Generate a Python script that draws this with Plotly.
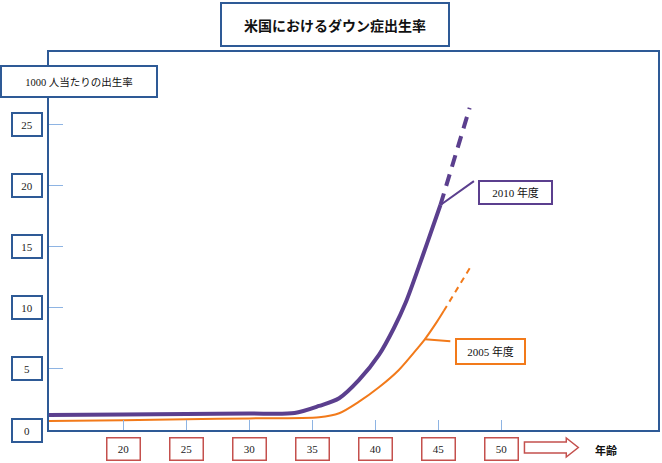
import plotly.graph_objects as go

# 2010: solid part and dashed extension (age, births per 1000)
AGE_2010 = [14.1, 20, 25, 30, 33.6, 35.55, 37.14, 38.72, 40.3, 41.49, 42.44, 43.47, 44.12, 45.18]
VAL_2010 = [1.23, 1.27, 1.31, 1.35, 1.39, 1.97, 2.6, 4.1, 6.15, 8.36, 10.49, 13.39, 15.3, 18.44]
AGE_2010_EXT = [45.18, 47.5]
VAL_2010_EXT = [18.44, 26.4]

# 2005
AGE_2005 = [14.1, 20, 25, 30, 35.55, 37.14, 38.72, 40.3, 41.88, 43.47, 43.94, 44.91, 45.44]
VAL_2005 = [0.74, 0.8, 0.88, 0.95, 1.04, 1.37, 2.32, 3.5, 4.92, 6.83, 7.43, 8.88, 9.75]
AGE_2005_EXT = [45.44, 47.66]
VAL_2005_EXT = [9.75, 13.52]

X_TICKS = [20, 25, 30, 35, 40, 45, 50]
Y_TICKS = [0, 5, 10, 15, 20, 25]

TITLE = "米国におけるダウン症出生率"
Y_TITLE = "1000 人当たりの出生率"
X_TITLE = "年齢"
LABEL_2010 = "2010 年度"
LABEL_2005 = "2005 年度"

BLUE = "#2E5A96"
RED = "#C4504D"
PURPLE = "#5B3F8E"
ORANGE = "#F27A1A"
TICK = "#8EB4E3"
SERIF = "Liberation Serif, Noto Sans CJK JP"
SANS = "Noto Sans CJK JP"

fig = go.Figure()

fig.add_trace(go.Scatter(x=AGE_2010, y=VAL_2010, mode="lines",
                         line=dict(color=PURPLE, width=4, shape="spline", smoothing=0.8)))
fig.add_trace(go.Scatter(x=AGE_2010_EXT, y=VAL_2010_EXT, mode="lines",
                         line=dict(color=PURPLE, width=4, dash="12px,8px")))
fig.add_trace(go.Scatter(x=AGE_2005, y=VAL_2005, mode="lines",
                         line=dict(color=ORANGE, width=2, shape="spline", smoothing=0.8)))
fig.add_trace(go.Scatter(x=AGE_2005_EXT, y=VAL_2005_EXT, mode="lines",
                         line=dict(color=ORANGE, width=2, dash="6px,5px")))

annotations = []

# boxed tick labels
for v in Y_TICKS:
    annotations.append(dict(
        x=-0.036, xref="paper", y=v, yref="y", text=str(v), showarrow=False,
        font=dict(family=SERIF, size=11, color="#222"),
        width=28, height=21, bordercolor=BLUE, borderwidth=2, borderpad=0,
        bgcolor="white", xanchor="center", yanchor="middle",
    ))
for v in X_TICKS:
    annotations.append(dict(
        x=v, xref="x", y=-0.049, yref="paper", text=str(v), showarrow=False,
        font=dict(family=SERIF, size=11, color="#222"),
        width=32, height=21, bordercolor=RED, borderwidth=1.5, borderpad=0,
        bgcolor="white", xanchor="center", yanchor="middle",
    ))

# title and axis titles
annotations.append(dict(
    x=0.4697, xref="paper", y=1.0728, yref="paper", text="<b>" + TITLE + "</b>",
    showarrow=False, font=dict(family=SANS, size=14, color="#111"),
    width=226, height=41, bordercolor=BLUE, borderwidth=2, borderpad=0,
    bgcolor="white", xanchor="center", yanchor="middle",
))
annotations.append(dict(
    x=0.0491, xref="paper", y=0.922, yref="paper", text=Y_TITLE,
    showarrow=False, font=dict(family=SERIF, size=10.5, color="#111"),
    width=154, height=29, bordercolor=BLUE, borderwidth=2, borderpad=0,
    bgcolor="white", xanchor="center", yanchor="middle",
))
annotations.append(dict(
    x=0.915, xref="paper", y=-0.053, yref="paper", text="<b>" + X_TITLE + "</b>",
    showarrow=False, font=dict(family=SANS, size=11, color="#111"),
    xanchor="center", yanchor="middle",
))

# series labels with leader lines
annotations.append(dict(
    x=AGE_2010[-1], y=VAL_2010[-1], text="", showarrow=True, arrowhead=0,
    arrowwidth=2, arrowcolor=PURPLE, ax=35, ay=-25,
))
annotations.append(dict(
    x=0.7659, xref="paper", y=0.627, yref="paper", text=LABEL_2010,
    showarrow=False, font=dict(family=SERIF, size=11, color="#111"),
    width=71, height=21, bordercolor=PURPLE, borderwidth=2, borderpad=0,
    bgcolor="white", xanchor="center", yanchor="middle",
))
annotations.append(dict(
    x=AGE_2005[10], y=VAL_2005[10], text="", showarrow=True, arrowhead=0,
    arrowwidth=2, arrowcolor=ORANGE, ax=27, ay=2,
))
annotations.append(dict(
    x=0.7250, xref="paper", y=0.2070, yref="paper", text=LABEL_2005,
    showarrow=False, font=dict(family=SERIF, size=11, color="#111"),
    width=67, height=23, bordercolor=ORANGE, borderwidth=2, borderpad=0,
    bgcolor="white", xanchor="center", yanchor="middle",
))


def px_x(p):
    return (p - 49) / 611


def px_y(p):
    return (430 - p) / 378


# outline arrow pointing right, next to the age ticks
pts = [(526, 442), (568, 442), (568, 438), (580, 447.5), (568, 457), (568, 453), (526, 453)]
path = "M " + " L ".join(f"{px_x(a):.4f},{px_y(b):.4f}" for a, b in pts) + " Z"

fig.update_layout(
    width=662, height=463,
    margin=dict(l=49, r=2, t=52, b=33),
    paper_bgcolor="white", plot_bgcolor="white",
    showlegend=False,
    xaxis=dict(range=[14.11, 62.45], tickvals=X_TICKS, showticklabels=False,
               ticks="inside", ticklen=10, tickwidth=1, tickcolor=TICK,
               showgrid=False, zeroline=False, showline=True, mirror=True,
               linecolor=BLUE, linewidth=2),
    yaxis=dict(range=[0, 30.98], tickvals=Y_TICKS, showticklabels=False,
               ticks="inside", ticklen=14, tickwidth=1, tickcolor=TICK,
               showgrid=False, zeroline=False, showline=True, mirror=True,
               linecolor=BLUE, linewidth=2),
    annotations=annotations,
    shapes=[dict(type="path", path=path, xref="paper", yref="paper",
                 line=dict(color=RED, width=1.5), fillcolor="white")],
)

# the page's default body margin would push the chart off the window
fig.write_html("out.html", config={"displayModeBar": False},
               post_script="document.body.style.margin = '0';")
